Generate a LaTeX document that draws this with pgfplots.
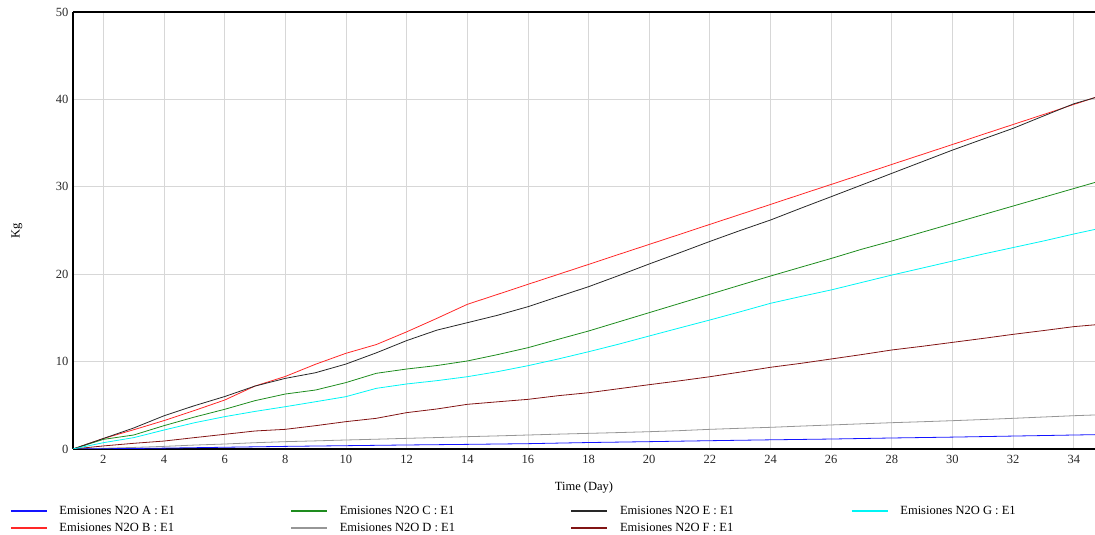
\documentclass[border=0pt]{standalone}
\usepackage{fontspec}
\setmainfont{Liberation Serif}
\usepackage{pgfplots}
\pgfplotsset{compat=1.18}
\definecolor{gridc}{RGB}{215,215,215}
\definecolor{cA}{RGB}{20,20,255}
\definecolor{cB}{RGB}{255,40,40}
\definecolor{cC}{RGB}{30,140,30}
\definecolor{cD}{RGB}{150,150,150}
\definecolor{cE}{RGB}{40,40,40}
\definecolor{cF}{RGB}{130,20,20}
\definecolor{cG}{RGB}{0,245,245}
\definecolor{tc}{RGB}{40,40,40}
\newcommand{\ent}[1]{\hspace*{10pt}\makebox[229pt][l]{#1}}
\pgfplotsset{
  mylegend/.style={
    legend columns=4,
    legend cell align=left,
    legend style={at={(0,0)}, anchor=north west, xshift=-63pt, yshift=#1,
      draw=none, fill=none, font=\fontsize{12.5}{14}\selectfont,
      inner sep=0pt,
      /tikz/every even column/.append style={column sep=0pt}},
    legend image code/.code={\draw[##1, line width=1.3pt] (0pt,0pt) -- (36pt,0pt);},
  }
}
\begin{document}
\begin{tikzpicture}
\begin{axis}[
  at={(0,0)}, anchor=south west,
  scale only axis, width=1022pt, height=437pt,
  xmin=1, xmax=34.7, ymin=0, ymax=50,
  xtick={2,4,...,34}, ytick={0,10,...,50},
  grid=major, major grid style={gridc, line width=0.8pt},
  major tick length=0pt,
  axis x line=box, axis y line=left,
  axis line style={-, black, line width=1.3pt},
  tick label style={font=\fontsize{12.5}{14}\selectfont, text=tc},
  /pgf/number format/assume math mode=true,
  xticklabel style={yshift=-3pt},
  yticklabel style={xshift=-1pt},
  xlabel={Time (Day)}, ylabel={Kg},
  label style={font=\fontsize{12.5}{14}\selectfont, text=black},
  xlabel style={at={(axis description cs:0.5,0)}, anchor=center, yshift=-39pt},
  ylabel style={at={(axis description cs:0,0.5)}, anchor=center, yshift=56pt},
  clip=true,
  mylegend=-55pt,
  every axis plot/.append style={line width=0.8pt},
]
\addplot[cB, forget plot] coordinates {(1,0)(2,1.2)(3,2.2)(4,3.25)(5,4.4)(6,5.6)(7,7.2)(8,8.3)(9,9.7)(10,10.95)(11,11.95)(12,13.4)(13,14.95)(14,16.55)(15,17.69)(16,18.84)(17,19.98)(18,21.12)(19,22.27)(20,23.41)(21,24.55)(22,25.7)(23,26.84)(24,27.98)(25,29.13)(26,30.27)(27,31.41)(28,32.56)(29,33.7)(30,34.84)(31,35.99)(32,37.13)(33,38.27)(34,39.42)(35,40.56)};
\addplot[cD, forget plot] coordinates {(1,0)(2,0.08)(3,0.18)(4,0.3)(5,0.45)(6,0.57)(7,0.72)(8,0.84)(9,0.93)(10,1.03)(11,1.12)(12,1.22)(13,1.31)(14,1.41)(15,1.5)(16,1.6)(17,1.7)(18,1.79)(19,1.88)(20,1.98)(21,2.1)(22,2.25)(23,2.37)(24,2.48)(25,2.62)(26,2.75)(27,2.88)(28,3.01)(29,3.12)(30,3.24)(31,3.37)(32,3.51)(33,3.66)(34,3.81)(35,3.93)};
\addplot[cF, forget plot] coordinates {(1,0)(2,0.35)(3,0.65)(4,0.91)(5,1.3)(6,1.68)(7,2.06)(8,2.25)(9,2.67)(10,3.13)(11,3.51)(12,4.16)(13,4.58)(14,5.11)(15,5.4)(16,5.68)(17,6.1)(18,6.44)(19,6.9)(20,7.36)(21,7.8)(22,8.27)(23,8.8)(24,9.35)(25,9.8)(26,10.3)(27,10.8)(28,11.33)(29,11.75)(30,12.2)(31,12.65)(32,13.12)(33,13.55)(34,14.0)(35,14.3)};
\addplot[cA] coordinates {(1,0)(2,0.03)(3,0.06)(4,0.1)(6,0.2)(8,0.3)(10,0.38)(12,0.46)(14,0.53)(16,0.61)(18,0.74)(20,0.84)(22,0.95)(24,1.05)(26,1.14)(28,1.26)(30,1.36)(32,1.48)(34,1.6)(35,1.66)};
\addlegendentry{\ent{Emisiones N2O A : E1}}
\addplot[cC] coordinates {(1,0)(2,1.1)(3,1.6)(4,2.67)(5,3.65)(6,4.54)(7,5.53)(8,6.29)(9,6.75)(10,7.6)(11,8.66)(12,9.15)(13,9.55)(14,10.07)(15,10.8)(16,11.59)(17,12.55)(18,13.5)(19,14.55)(20,15.6)(21,16.65)(22,17.7)(23,18.75)(24,19.79)(25,20.8)(26,21.8)(27,22.85)(28,23.8)(29,24.8)(30,25.8)(31,26.8)(32,27.8)(33,28.8)(34,29.8)(35,30.8)};
\addlegendentry{\ent{Emisiones N2O C : E1}}
\addplot[cE] coordinates {(1,0)(2,1.2)(3,2.4)(4,3.8)(5,4.95)(6,6.0)(7,7.2)(8,8.08)(9,8.73)(10,9.72)(11,11.0)(12,12.4)(13,13.6)(14,14.45)(15,15.3)(16,16.28)(17,17.43)(18,18.57)(19,19.85)(20,21.17)(21,22.45)(22,23.75)(23,25.0)(24,26.2)(25,27.55)(26,28.87)(27,30.2)(28,31.54)(29,32.87)(30,34.2)(31,35.45)(32,36.69)(33,38.1)(34,39.5)(35,40.5)};
\addlegendentry{\ent{Emisiones N2O E : E1}}
\addplot[cG] coordinates {(1,0)(2,0.72)(3,1.3)(4,2.17)(5,3.0)(6,3.7)(7,4.3)(8,4.84)(9,5.41)(10,5.99)(11,6.94)(12,7.44)(13,7.82)(14,8.27)(15,8.85)(16,9.53)(17,10.3)(18,11.13)(19,12.0)(20,12.93)(21,13.85)(22,14.76)(23,15.7)(24,16.67)(25,17.45)(26,18.2)(27,19.05)(28,19.9)(29,20.7)(30,21.5)(31,22.3)(32,23.05)(33,23.8)(34,24.6)(35,25.35)};
\addlegendentry{\ent{Emisiones N2O G : E1}}
\end{axis}
\begin{axis}[
  at={(0,0)}, anchor=south west,
  scale only axis, width=1022pt, height=437pt,
  xmin=0, xmax=1, ymin=0, ymax=1,
  hide axis,
  mylegend=-72pt,
]
\addlegendimage{cB}
\addlegendentry{\ent{Emisiones N2O B : E1}}
\addlegendimage{cD}
\addlegendentry{\ent{Emisiones N2O D : E1}}
\addlegendimage{cF}
\addlegendentry{\ent{Emisiones N2O F : E1}}
\end{axis}
\pgfresetboundingbox
\path (-73pt,-86pt) rectangle (1022pt,449pt);
\end{tikzpicture}
\end{document}
